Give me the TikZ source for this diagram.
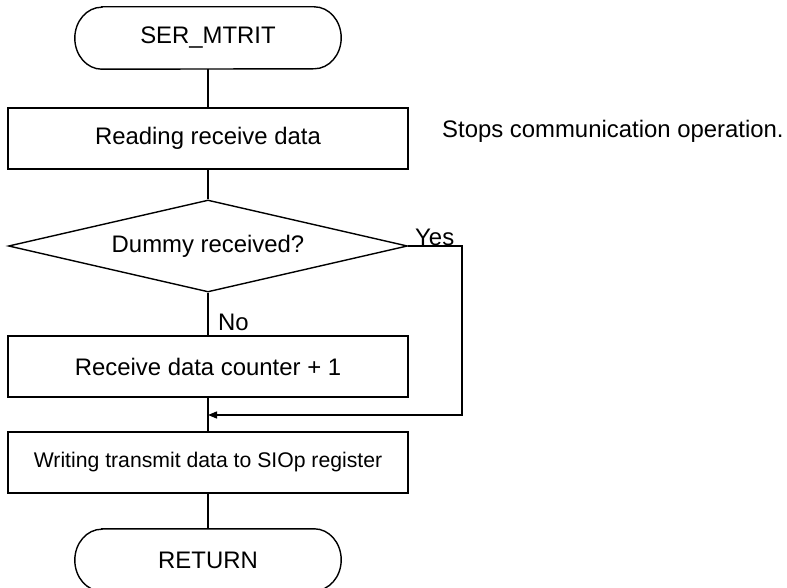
\documentclass[tikz,border=0pt]{standalone}
\usepackage{fontspec}
\setmainfont{Liberation Sans}
\usetikzlibrary{shapes.geometric,arrows.meta}
\begin{document}
\begin{tikzpicture}[x=1pt,y=-1pt,
  line/.style={draw=black,line width=1.4pt},
  bigtext/.style={font=\fontsize{23.9}{28}\selectfont},
  smalltext/.style={font=\fontsize{21.2}{25}\selectfont},
  procbox/.style={line,rectangle,minimum width=400pt,minimum height=61pt,inner sep=0pt},
  termnode/.style={rectangle,minimum width=266pt,minimum height=62pt,inner sep=0pt,bigtext},
  decision/.style={line,diamond,shape aspect=4.34,minimum width=399pt,minimum height=92pt,inner sep=0pt,bigtext},
  flowarrow/.style={line,-{Triangle[length=9pt,width=7pt]}}
]
\useasboundingbox (0,0) rectangle (787,588);
\fill[white] (0,0) rectangle (787,588);

% nodes
\node[termnode] (t1) at (208,38) {\raisebox{-1.5pt}{SER\_MTRIT}};
\node[procbox,bigtext] (b1) at (208,138.5) {Reading receive data};
\node[decision] (d) at (208,246) {\raisebox{-5pt}{Dummy received?}};
\node[procbox,bigtext] (b2) at (208,366.5) {Receive data counter + 1};
\node[procbox,smalltext] (b3) at (208,462.5) {Writing transmit data to SIOp register};
\node[termnode] (t2) at (208,560) {RETURN};

\node[bigtext,anchor=base west,inner sep=0pt] (note) at (442,138) {Stops communication operation.};
\node[bigtext,anchor=base west,inner sep=0pt] (yes) at (415,245) {Yes};
\node[bigtext,anchor=base west,inner sep=0pt] (no) at (218,330) {No};

% terminal outlines
\foreach \t in {t1,t2}{
  \draw[line] ([xshift=27pt]\t.north west) -- ([xshift=-27pt]\t.north east)
    arc[start angle=90,end angle=-90,x radius=27pt,y radius=31pt]
    -- ([xshift=27pt]\t.south west)
    arc[start angle=270,end angle=90,x radius=27pt,y radius=31pt] -- cycle;
}

% connectors
\coordinate (j) at (208,415);
\coordinate (jr) at (462,415);
\draw[line] (t1) -- (b1);
\draw[line] (b1) -- (d);
\draw[line] (d) -- (b2);
\draw[line] (b2) -- (b3);
\draw[line] (b3) -- (t2);
\draw[flowarrow] (d.east) -- (d.east -| jr) -- (jr) -- (j);
\end{tikzpicture}
\end{document}
